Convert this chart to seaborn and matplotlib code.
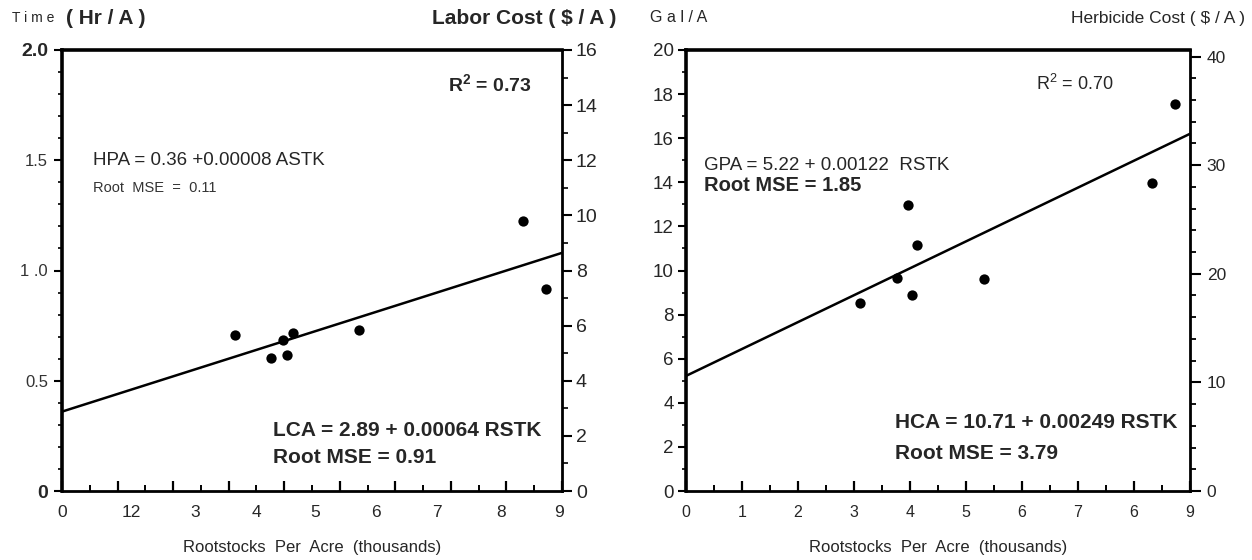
import numpy as np
import pandas as pd
import matplotlib
matplotlib.use("Agg")
import matplotlib.pyplot as plt
import seaborn as sns
from matplotlib.ticker import MultipleLocator

# ---------------- data ----------------
# Left panel: time (Hr/A) vs rootstocks per acre (thousands)
left_x = [3.12, 3.77, 4.05, 3.98, 4.15, 5.35, 8.29, 8.71]
left_y = [0.706, 0.604, 0.616, 0.687, 0.716, 0.73, 1.224, 0.918]
left_line_x = [0, 9]
left_line_y = [0.36, 1.08]

# Right panel: gallons per acre vs rootstocks per acre (thousands)
right_x = [3.10, 3.76, 3.96, 4.12, 4.03, 5.33, 8.32, 8.73]
right_y = [8.53, 9.67, 12.98, 11.17, 8.89, 9.62, 13.95, 17.56]
right_line_x = [0, 9]
right_line_y = [5.22, 16.2]

left_xticklabels = ["0", "12", "3", "4", "5", "6", "7", "8", "9"]
left_xlabel_pos = [0, 1.25, 2.4, 3.5, 4.55, 5.65, 6.75, 7.9, 8.95]
right_xticklabels = ["0", "1", "2", "3", "4", "5", "6", "7", "6", "9"]
left_yticklabels = ["0", "0.5", "1 .0", "1.5", "2.0"]
left_y2ticklabels = ["0", "2", "4", "6", "8", "10", "12", "14", "16"]
right_yticklabels = ["0", "2", "4", "6", "8", "10", "12", "14", "16", "18", "20"]
right_y2ticklabels = ["0", "10", "20", "30", "40"]

# ---------------- style ----------------
sns.set_theme(style="white")
plt.rcParams["font.family"] = ["Liberation Sans", "DejaVu Sans"]
NARROW = ["Liberation Sans Narrow", "Liberation Sans", "DejaVu Sans"]

W, H = 1252, 560
fig = plt.figure(figsize=(W / 100, H / 100), dpi=100)
axL = fig.add_axes([62 / W, 69 / H, 500 / W, 441 / H])
axR = fig.add_axes([686 / W, 69 / H, 504 / W, 441 / H])

dfL = pd.DataFrame({"x": left_x, "y": left_y})
dfR = pd.DataFrame({"x": right_x, "y": right_y})
dfLl = pd.DataFrame({"x": left_line_x, "y": left_line_y})
dfRl = pd.DataFrame({"x": right_line_x, "y": right_line_y})

for ax, df, dfl in [(axL, dfL, dfLl), (axR, dfR, dfRl)]:
    sns.lineplot(data=dfl, x="x", y="y", ax=ax, color="black", lw=1.8)
    sns.scatterplot(data=df, x="x", y="y", ax=ax, color="black", s=55,
                    edgecolor="black", linewidth=0, zorder=5)
    ax.set_xlim(0, 9)
    ax.set_xlabel("Rootstocks  Per  Acre  (thousands)", fontsize=12, labelpad=32)
    ax.set_ylabel("")
    for side, lw in [("top", 2.6), ("left", 2.6), ("bottom", 2.0), ("right", 2.0)]:
        ax.spines[side].set_linewidth(lw)
        ax.spines[side].set_color("black")
    # bottom ticks: integers (taller) and halves, pointing inward
    ax.set_xticks(range(10))
    ax.xaxis.set_minor_locator(MultipleLocator(0.5))
    ax.tick_params(axis="x", which="major", direction="in", length=7, width=1.6,
                   bottom=True, top=False, labelbottom=False, color="black")
    ax.tick_params(axis="x", which="minor", direction="in", length=4, width=1.4,
                   bottom=True, top=False, color="black")

# x tick labels as texts
for pos, lab in zip(left_xlabel_pos, left_xticklabels):
    axL.text(pos, -0.048, lab, transform=axL.get_xaxis_transform(),
             ha="center", va="center", fontsize=12.5)
for pos, lab in enumerate(right_xticklabels):
    axR.text(pos, -0.048, lab, transform=axR.get_xaxis_transform(),
             ha="center", va="center", fontsize=11.5, family=NARROW)

# ---- left panel y axes ----
axL.set_ylim(0, 2.0)
axL.set_yticks([0, 0.5, 1.0, 1.5, 2.0])
axL.set_yticklabels(left_yticklabels)
axL.yaxis.set_minor_locator(MultipleLocator(0.1))
axL.tick_params(axis="y", which="major", direction="out", length=6, width=1.5,
                left=True, labelsize=12, pad=4, color="black")
axL.tick_params(axis="y", which="minor", direction="out", length=3, width=1.2,
                left=True, color="black")
for t in axL.get_yticklabels():
    if t.get_text() in ("0", "2.0"):
        t.set_fontweight("bold")
        t.set_fontsize(14)
    else:
        t.set_color("#333333")

axL2 = axL.twinx()
axL2.set_ylim(0, 16)
axL2.set_yticks(range(0, 17, 2))
axL2.set_yticklabels(left_y2ticklabels)
axL2.yaxis.set_minor_locator(MultipleLocator(1))
axL2.tick_params(axis="y", which="major", direction="out", length=7, width=1.5,
                 right=True, labelsize=14, pad=3, color="black")
axL2.tick_params(axis="y", which="minor", direction="out", length=4, width=1.2,
                 right=True, color="black")
for sp in axL2.spines.values():
    sp.set_visible(False)
axL2.grid(False)

# ---- right panel y axes ----
axR.set_ylim(0, 20)
axR.set_yticks(range(0, 21, 2))
axR.set_yticklabels(right_yticklabels)
axR.yaxis.set_minor_locator(MultipleLocator(1))
axR.tick_params(axis="y", which="major", direction="out", length=6, width=1.5,
                left=True, labelsize=13.5, pad=3, color="black")
axR.tick_params(axis="y", which="minor", direction="out", length=3, width=1.2,
                left=True, color="black")

axR2 = axR.twinx()
axR2.set_ylim(0, 40.6)
axR2.set_yticks(range(0, 41, 10))
axR2.set_yticklabels(right_y2ticklabels)
axR2.yaxis.set_minor_locator(MultipleLocator(2))
axR2.tick_params(axis="y", which="major", direction="out", length=8, width=1.5,
                 right=True, labelsize=12.5, pad=4, color="black")
axR2.tick_params(axis="y", which="minor", direction="out", length=4, width=1.3,
                 right=True, color="black")
for t in axR2.get_yticklabels():
    t.set_family(NARROW)
for sp in axR2.spines.values():
    sp.set_visible(False)
axR2.grid(False)

for ax in (axL, axR):
    ax.grid(False)

# ---- annotations left ----
axL.text(0.55, 1.5, "HPA = 0.36 +0.00008 ASTK", fontsize=13.5, va="center", ha="left")
axL.text(0.55, 1.375, "Root  MSE  =  0.11", fontsize=10.5, va="center", ha="left",
         color="#333333")
axL.text(6.95, 1.84, "R$^{\\mathregular{2}}$ = 0.73", fontsize=14, va="center", ha="left",
         family=NARROW, fontweight="bold")
axL.text(3.8, 0.276, "LCA = 2.89 + 0.00064 RSTK", fontsize=15, va="center", ha="left",
         family=NARROW, fontweight="bold")
axL.text(3.8, 0.15, "Root MSE = 0.91", fontsize=15, va="center", ha="left",
         family=NARROW, fontweight="bold")

# ---- annotations right ----
axR.text(6.25, 18.45, "R$^{\\mathregular{2}}$ = 0.70", fontsize=13, va="center", ha="left",
         family=NARROW)
axR.text(0.33, 14.75, "GPA = 5.22 + 0.00122  RSTK", fontsize=13.5, va="center", ha="left",
         family=NARROW)
axR.text(0.33, 13.85, "Root MSE = 1.85", fontsize=14.5, va="center", ha="left",
         family=NARROW, fontweight="bold")
axR.text(3.73, 3.12, "HCA = 10.71 + 0.00249 RSTK", fontsize=15, va="center", ha="left",
         family=NARROW, fontweight="bold")
axR.text(3.73, 1.68, "Root MSE = 3.79", fontsize=15, va="center", ha="left",
         family=NARROW, fontweight="bold")

# ---- axis headers ----
fig.text(12 / W, 1 - 18 / H, "T i m e", fontsize=10, va="center", ha="left")
fig.text(66 / W, 1 - 18 / H, "( Hr / A )", fontsize=15, va="center", ha="left",
         family=NARROW, fontweight="bold")
fig.text(616 / W, 1 - 18 / H, "Labor Cost ( $ / A )", fontsize=15, va="center", ha="right",
         family=NARROW, fontweight="bold")
fig.text(650 / W, 1 - 18 / H, "G a l / A", fontsize=11.5, va="center", ha="left")
fig.text(1245 / W, 1 - 18 / H, "Herbicide Cost ( $ / A )", fontsize=12.5, va="center",
         ha="right")

fig.savefig("out.png", dpi=100, facecolor="white")
